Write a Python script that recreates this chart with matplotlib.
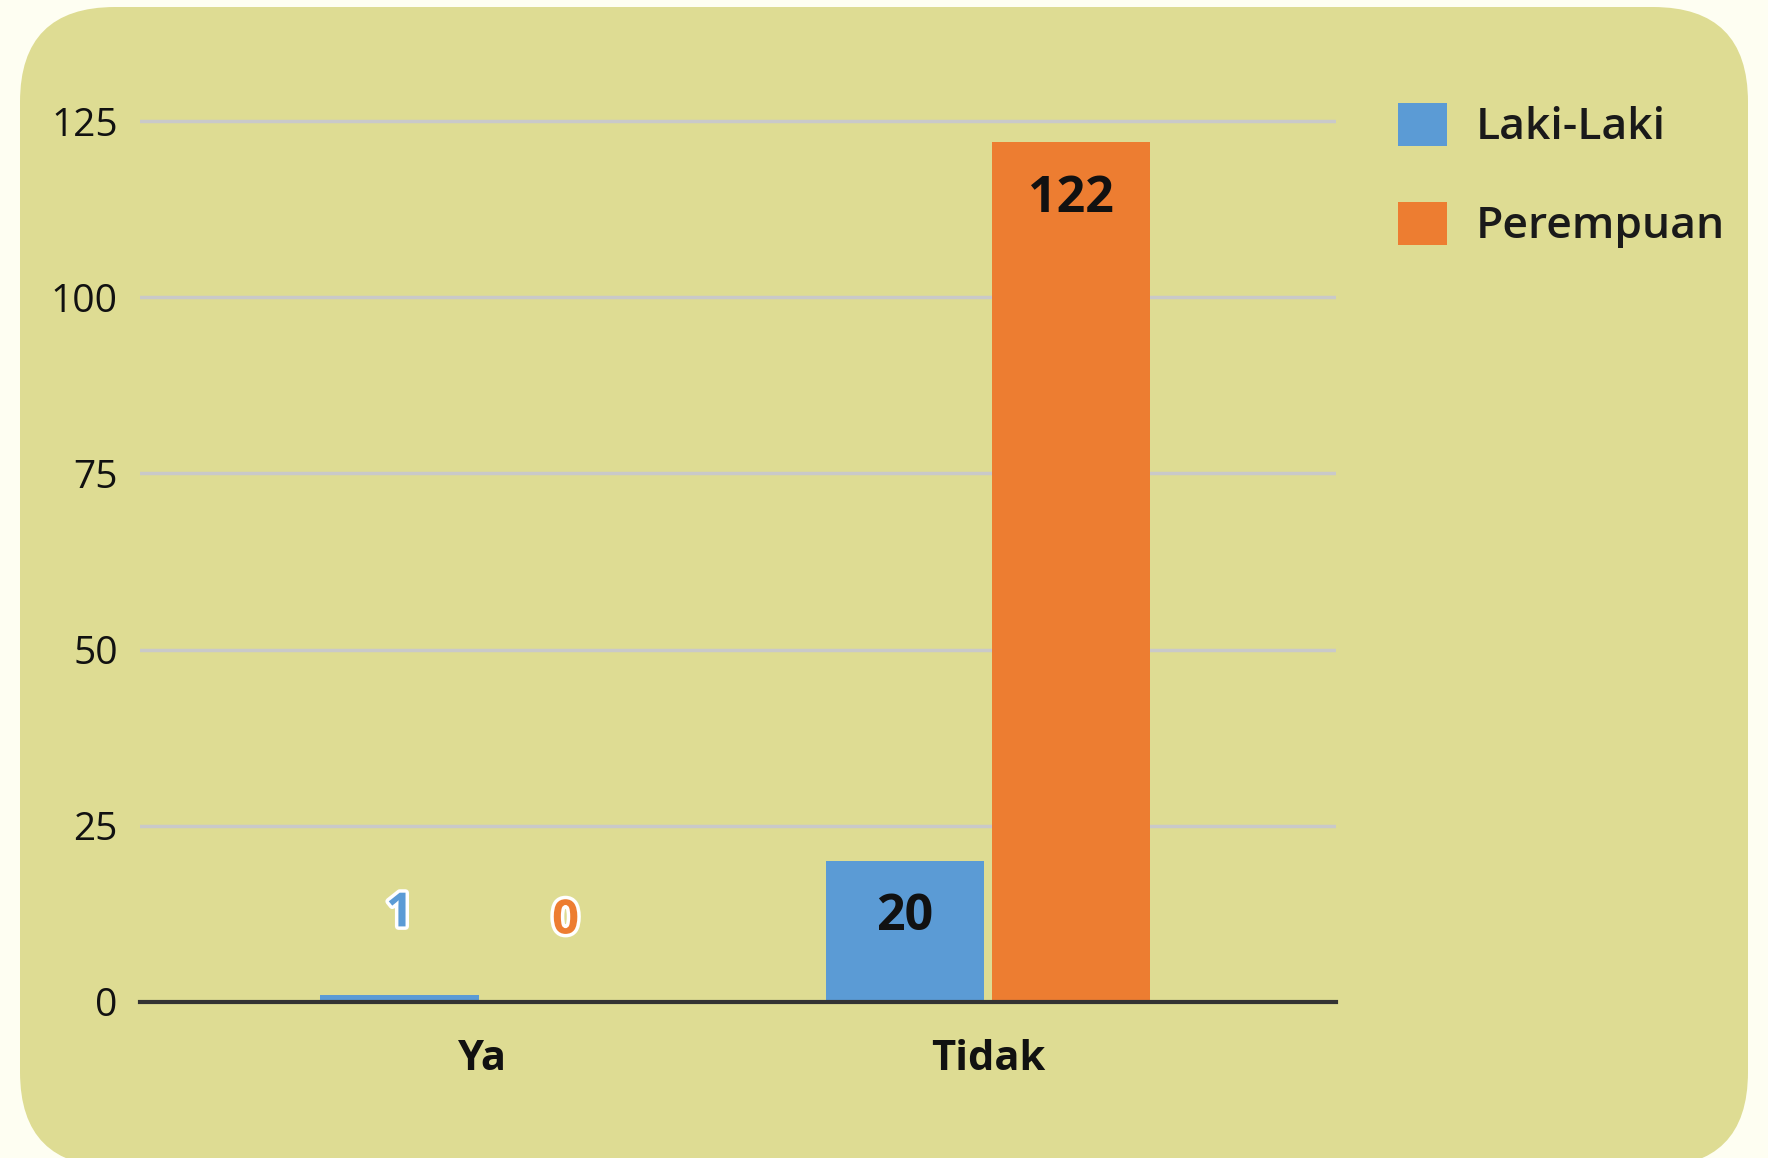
import matplotlib
matplotlib.use("Agg")
import matplotlib.pyplot as plt
import numpy as np
from matplotlib.patches import FancyBboxPatch, Patch
import matplotlib.patheffects as pe

categories = ["Ya", "Tidak"]
series_names = ["Laki-Laki", "Perempuan"]
laki = [1, 20]
perempuan = [0, 122]
yticks = [0, 25, 50, 75, 100, 125]

BLUE = "#5B9BD5"
ORANGE = "#ED7D31"
BG_OUT = "#FEFEF2"
BG_IN = "#DEDC93"

W, H = 1768, 1158
fig = plt.figure(figsize=(W / 100, H / 100), dpi=100)
fig.patch.set_facecolor(BG_OUT)
plt.rcParams['font.family'] = ['Open Sans', 'DejaVu Sans']

# rounded panel drawn in a pixel-coordinate background axes
bg = fig.add_axes([0, 0, 1, 1], zorder=-10)
bg.set_xlim(0, W)
bg.set_ylim(H, 0)
bg.axis("off")
bg.add_patch(FancyBboxPatch((20, 7), 1728, 1160,
                            boxstyle="round,pad=0,rounding_size=95",
                            facecolor=BG_IN, edgecolor="none"))

ax = fig.add_axes([140 / W, 1 - 1002 / H, (1336 - 140) / W, (1002 - 119) / H], zorder=1)
ax.set_facecolor("none")

x = np.arange(len(categories))
bw = 0.3126
off = 0.1642
ax.bar(x - off, laki, bw, color=BLUE, zorder=3)
ax.bar(x + off, perempuan, bw, color=ORANGE, zorder=3)

ax.set_xlim(-0.6775, 1.688)
ax.set_ylim(0, 125.3)
ax.set_yticks(yticks)
ax.set_yticklabels([str(t) for t in yticks], fontsize=28, color="#111111")
ax.set_xticks(x)
ax.set_xticklabels(categories, fontsize=30, fontweight="bold", color="#111111")
ax.tick_params(axis="both", length=0)
ax.tick_params(axis="y", pad=16)
ax.tick_params(axis="x", pad=27)
for s in ["top", "right", "left"]:
    ax.spines[s].set_visible(False)
ax.spines["bottom"].set_color("#333333")
ax.spines["bottom"].set_linewidth(3)
ax.spines["bottom"].set_zorder(5)
ax.grid(axis="y", color="#C9C9C9", linewidth=2.5, zorder=1)
ax.set_axisbelow(True)

for vals, dx, col in [(laki, -off, BLUE), (perempuan, off, ORANGE)]:
    for i, v in enumerate(vals):
        if v > 15:
            ax.text(i + dx, v - 8.0, str(v), ha="center", va="center",
                    fontsize=36, fontweight="bold", color="#111111", zorder=6)
        else:
            ax.text(i + dx, v + 11.5, str(v), ha="center", va="center",
                    fontsize=34, fontweight="bold", color=col, zorder=6,
                    path_effects=[pe.withStroke(linewidth=5, foreground="white")])

handles = [Patch(facecolor=BLUE, edgecolor="none"), Patch(facecolor=ORANGE, edgecolor="none")]
leg = fig.legend(handles, series_names, loc="upper left",
                 bbox_to_anchor=(1398 / W, 1 - 103 / H), frameon=False,
                 fontsize=32, handlelength=1.1, handleheight=1.1,
                 handletextpad=0.65, labelspacing=1.18, borderpad=0, borderaxespad=0)
for t in leg.get_texts():
    t.set_fontweight("semibold")
    t.set_color("#1a1a1a")

fig.savefig("out.png", dpi=100, facecolor=fig.get_facecolor())
